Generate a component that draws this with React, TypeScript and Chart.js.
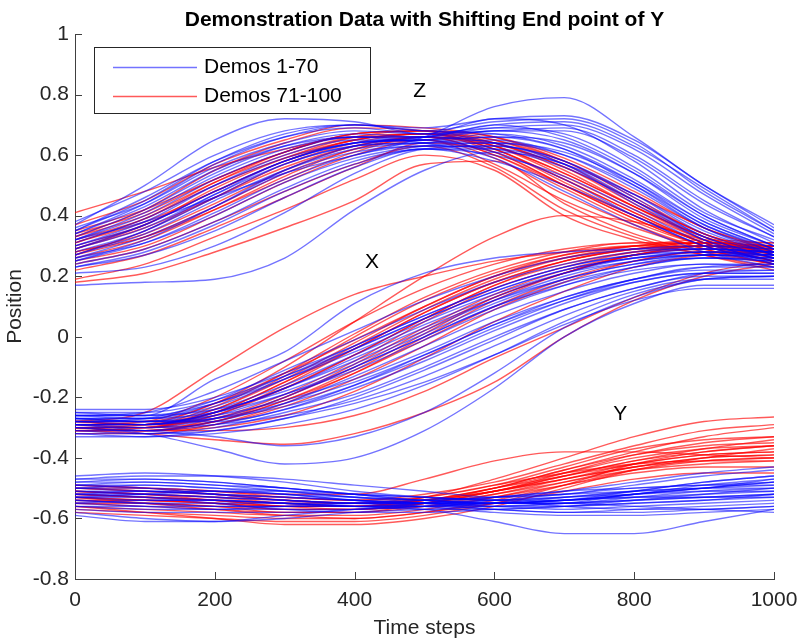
import React, { useEffect, useRef } from 'react';
import { Chart, registerables } from 'chart.js';

Chart.register(...registerables);

// Time steps at which each demonstration is sampled
const T = [0, 100, 200, 300, 400, 500, 600, 700, 800, 900, 1000];

// Z dimension, demos 1-70 (blue)
const Z_BLUE = [
  [0.32, 0.38, 0.46, 0.54, 0.60, 0.66, 0.76, 0.79, 0.66, 0.50, 0.37],
  [0.37, 0.50, 0.65, 0.72, 0.71, 0.67, 0.68, 0.69, 0.60, 0.45, 0.33],
  [0.35, 0.46, 0.58, 0.66, 0.69, 0.67, 0.72, 0.70, 0.58, 0.42, 0.31],
  [0.33, 0.42, 0.54, 0.63, 0.67, 0.66, 0.70, 0.66, 0.55, 0.40, 0.30],
  [0.30, 0.38, 0.50, 0.60, 0.65, 0.65, 0.67, 0.63, 0.52, 0.38, 0.29],
  [0.28, 0.35, 0.46, 0.57, 0.63, 0.64, 0.65, 0.60, 0.49, 0.36, 0.28],
  [0.26, 0.33, 0.43, 0.54, 0.61, 0.63, 0.63, 0.58, 0.47, 0.34, 0.27],
  [0.25, 0.31, 0.41, 0.52, 0.60, 0.63, 0.62, 0.56, 0.45, 0.33, 0.26],
  [0.24, 0.29, 0.38, 0.49, 0.58, 0.62, 0.60, 0.53, 0.42, 0.31, 0.25],
  [0.23, 0.27, 0.35, 0.46, 0.56, 0.62, 0.58, 0.50, 0.40, 0.30, 0.25],
  [0.32, 0.40, 0.52, 0.61, 0.66, 0.66, 0.64, 0.57, 0.44, 0.32, 0.26],
  [0.29, 0.37, 0.48, 0.58, 0.64, 0.65, 0.61, 0.52, 0.40, 0.30, 0.24],
  [0.27, 0.34, 0.45, 0.55, 0.62, 0.64, 0.66, 0.62, 0.51, 0.37, 0.29],
  [0.36, 0.44, 0.56, 0.64, 0.68, 0.67, 0.69, 0.67, 0.56, 0.41, 0.32],
  [0.17, 0.18, 0.19, 0.26, 0.42, 0.55, 0.61, 0.57, 0.45, 0.32, 0.24],
  [0.21, 0.23, 0.30, 0.41, 0.54, 0.62, 0.63, 0.58, 0.46, 0.33, 0.26],
  [0.34, 0.43, 0.55, 0.63, 0.66, 0.64, 0.59, 0.48, 0.37, 0.28, 0.23],
  [0.38, 0.48, 0.60, 0.68, 0.70, 0.68, 0.71, 0.72, 0.64, 0.48, 0.35],
  [0.31, 0.39, 0.50, 0.59, 0.64, 0.65, 0.68, 0.68, 0.59, 0.44, 0.33],
  [0.27, 0.35, 0.47, 0.58, 0.64, 0.66, 0.69, 0.70, 0.62, 0.47, 0.34],
  [0.25, 0.32, 0.43, 0.55, 0.63, 0.66, 0.70, 0.71, 0.63, 0.49, 0.35],
  [0.34, 0.44, 0.57, 0.66, 0.70, 0.69, 0.72, 0.73, 0.65, 0.50, 0.36],
  [0.29, 0.36, 0.47, 0.57, 0.63, 0.64, 0.64, 0.60, 0.50, 0.37, 0.28],
  [0.23, 0.28, 0.37, 0.48, 0.57, 0.62, 0.62, 0.57, 0.47, 0.35, 0.27],
  [0.30, 0.37, 0.48, 0.58, 0.64, 0.65, 0.66, 0.64, 0.54, 0.40, 0.30],
  [0.26, 0.31, 0.40, 0.51, 0.59, 0.63, 0.64, 0.61, 0.51, 0.38, 0.29],
  [0.35, 0.45, 0.58, 0.67, 0.70, 0.68, 0.67, 0.62, 0.50, 0.36, 0.27],
  [0.32, 0.41, 0.53, 0.62, 0.66, 0.66, 0.68, 0.65, 0.54, 0.39, 0.30],
];

// Z dimension, demos 71-100 (red)
const Z_RED = [
  [0.41, 0.48, 0.56, 0.62, 0.66, 0.66, 0.60, 0.50, 0.40, 0.31, 0.26],
  [0.35, 0.42, 0.52, 0.61, 0.67, 0.68, 0.64, 0.56, 0.44, 0.33, 0.27],
  [0.31, 0.38, 0.48, 0.58, 0.65, 0.67, 0.62, 0.52, 0.41, 0.31, 0.26],
  [0.28, 0.34, 0.44, 0.55, 0.63, 0.66, 0.60, 0.49, 0.38, 0.30, 0.25],
  [0.26, 0.32, 0.42, 0.53, 0.62, 0.65, 0.57, 0.45, 0.36, 0.29, 0.24],
  [0.33, 0.40, 0.51, 0.60, 0.66, 0.67, 0.65, 0.58, 0.47, 0.36, 0.28],
  [0.18, 0.21, 0.28, 0.36, 0.45, 0.57, 0.58, 0.44, 0.34, 0.28, 0.24],
  [0.19, 0.24, 0.33, 0.42, 0.52, 0.60, 0.55, 0.40, 0.32, 0.27, 0.23],
  [0.24, 0.29, 0.38, 0.48, 0.57, 0.63, 0.56, 0.42, 0.33, 0.27, 0.22],
  [0.29, 0.36, 0.46, 0.56, 0.63, 0.66, 0.63, 0.54, 0.43, 0.33, 0.28],
  [0.37, 0.45, 0.57, 0.65, 0.70, 0.69, 0.66, 0.58, 0.46, 0.34, 0.28],
  [0.22, 0.27, 0.36, 0.46, 0.56, 0.64, 0.61, 0.50, 0.39, 0.30, 0.25],
  [0.30, 0.37, 0.48, 0.58, 0.65, 0.67, 0.64, 0.55, 0.43, 0.32, 0.26],
  [0.27, 0.33, 0.43, 0.54, 0.62, 0.66, 0.62, 0.51, 0.40, 0.31, 0.25],
  [0.34, 0.41, 0.52, 0.61, 0.67, 0.68, 0.66, 0.59, 0.48, 0.36, 0.29],
  [0.25, 0.30, 0.40, 0.51, 0.60, 0.65, 0.59, 0.47, 0.37, 0.29, 0.24],
  [0.32, 0.39, 0.50, 0.59, 0.65, 0.67, 0.61, 0.50, 0.39, 0.30, 0.25],
  [0.29, 0.37, 0.49, 0.59, 0.66, 0.68, 0.65, 0.57, 0.45, 0.34, 0.27],
  [0.31, 0.39, 0.51, 0.61, 0.67, 0.68, 0.63, 0.53, 0.42, 0.32, 0.26],
  [0.27, 0.35, 0.46, 0.57, 0.64, 0.67, 0.63, 0.54, 0.43, 0.33, 0.27],
  [0.33, 0.42, 0.55, 0.64, 0.69, 0.68, 0.62, 0.52, 0.41, 0.31, 0.25],
  [0.28, 0.33, 0.42, 0.52, 0.61, 0.66, 0.64, 0.56, 0.45, 0.34, 0.28],
];

// X dimension, demos 1-70 (blue)
const X_BLUE = [
  [-0.26, -0.26, -0.14, -0.05, 0.11, 0.21, 0.26, 0.28, 0.29, 0.29, 0.28],
  [-0.30, -0.32, -0.37, -0.42, -0.40, -0.31, -0.17, 0.00, 0.11, 0.17, 0.17],
  [-0.29, -0.31, -0.33, -0.36, -0.33, -0.25, -0.12, 0.03, 0.13, 0.19, 0.20],
  [-0.26, -0.25, -0.18, -0.08, 0.02, 0.12, 0.20, 0.26, 0.29, 0.30, 0.29],
  [-0.28, -0.27, -0.21, -0.11, -0.01, 0.09, 0.18, 0.24, 0.28, 0.29, 0.28],
  [-0.27, -0.27, -0.23, -0.14, -0.04, 0.06, 0.15, 0.22, 0.26, 0.28, 0.27],
  [-0.29, -0.29, -0.25, -0.17, -0.07, 0.03, 0.12, 0.19, 0.24, 0.26, 0.25],
  [-0.30, -0.30, -0.27, -0.20, -0.10, 0.00, 0.10, 0.17, 0.22, 0.24, 0.24],
  [-0.25, -0.26, -0.24, -0.18, -0.09, 0.01, 0.11, 0.19, 0.24, 0.27, 0.27],
  [-0.31, -0.31, -0.28, -0.22, -0.13, -0.03, 0.07, 0.15, 0.21, 0.24, 0.23],
  [-0.28, -0.28, -0.26, -0.21, -0.14, -0.05, 0.05, 0.13, 0.19, 0.22, 0.22],
  [-0.27, -0.28, -0.28, -0.24, -0.17, -0.08, 0.02, 0.11, 0.18, 0.21, 0.21],
  [-0.32, -0.32, -0.30, -0.25, -0.19, -0.10, 0.00, 0.09, 0.16, 0.20, 0.20],
  [-0.26, -0.26, -0.22, -0.14, -0.05, 0.05, 0.14, 0.21, 0.25, 0.27, 0.26],
  [-0.29, -0.30, -0.29, -0.26, -0.21, -0.13, -0.03, 0.07, 0.15, 0.19, 0.19],
  [-0.24, -0.24, -0.20, -0.12, -0.03, 0.07, 0.16, 0.23, 0.27, 0.28, 0.27],
  [-0.33, -0.33, -0.31, -0.27, -0.22, -0.15, -0.06, 0.04, 0.12, 0.16, 0.16],
  [-0.28, -0.29, -0.27, -0.22, -0.15, -0.06, 0.04, 0.12, 0.18, 0.21, 0.21],
  [-0.27, -0.27, -0.22, -0.13, -0.03, 0.07, 0.16, 0.23, 0.27, 0.29, 0.28],
  [-0.29, -0.29, -0.26, -0.19, -0.10, 0.00, 0.10, 0.18, 0.23, 0.26, 0.26],
  [-0.30, -0.31, -0.29, -0.24, -0.16, -0.06, 0.04, 0.13, 0.19, 0.23, 0.23],
  [-0.26, -0.27, -0.25, -0.19, -0.11, -0.01, 0.09, 0.17, 0.23, 0.26, 0.25],
  [-0.31, -0.32, -0.31, -0.27, -0.20, -0.11, -0.01, 0.09, 0.16, 0.21, 0.22],
  [-0.28, -0.28, -0.24, -0.16, -0.06, 0.04, 0.13, 0.21, 0.26, 0.28, 0.28],
  [-0.25, -0.25, -0.21, -0.13, -0.04, 0.06, 0.15, 0.22, 0.26, 0.27, 0.26],
  [-0.32, -0.33, -0.32, -0.29, -0.24, -0.16, -0.06, 0.05, 0.14, 0.19, 0.20],
  [-0.29, -0.29, -0.25, -0.17, -0.08, 0.02, 0.12, 0.20, 0.25, 0.27, 0.27],
  [-0.27, -0.28, -0.27, -0.23, -0.16, -0.07, 0.03, 0.12, 0.19, 0.23, 0.24],
];

// X dimension, demos 71-100 (red)
const X_RED = [
  [-0.28, -0.25, -0.11, 0.03, 0.14, 0.20, 0.25, 0.28, 0.30, 0.30, 0.28],
  [-0.30, -0.29, -0.22, -0.10, 0.05, 0.20, 0.33, 0.40, 0.38, 0.32, 0.27],
  [-0.29, -0.29, -0.24, -0.13, 0.00, 0.12, 0.21, 0.27, 0.30, 0.31, 0.30],
  [-0.30, -0.30, -0.26, -0.16, -0.04, 0.08, 0.18, 0.25, 0.29, 0.31, 0.30],
  [-0.31, -0.31, -0.27, -0.19, -0.08, 0.05, 0.16, 0.23, 0.28, 0.30, 0.29],
  [-0.29, -0.30, -0.28, -0.21, -0.11, 0.01, 0.13, 0.21, 0.27, 0.29, 0.28],
  [-0.30, -0.31, -0.29, -0.23, -0.14, -0.03, 0.09, 0.18, 0.25, 0.28, 0.27],
  [-0.31, -0.32, -0.34, -0.355, -0.32, -0.25, -0.15, 0.00, 0.12, 0.20, 0.24],
  [-0.28, -0.29, -0.27, -0.20, -0.09, 0.03, 0.14, 0.22, 0.27, 0.29, 0.29],
  [-0.30, -0.30, -0.25, -0.15, -0.03, 0.09, 0.19, 0.26, 0.30, 0.32, 0.31],
  [-0.32, -0.32, -0.29, -0.22, -0.12, -0.01, 0.10, 0.19, 0.25, 0.28, 0.28],
  [-0.29, -0.29, -0.23, -0.12, 0.01, 0.13, 0.22, 0.28, 0.31, 0.31, 0.29],
  [-0.29, -0.29, -0.25, -0.17, -0.06, 0.06, 0.17, 0.24, 0.28, 0.30, 0.29],
  [-0.31, -0.31, -0.28, -0.20, -0.10, 0.02, 0.13, 0.21, 0.27, 0.30, 0.30],
  [-0.28, -0.28, -0.22, -0.12, -0.01, 0.10, 0.20, 0.26, 0.29, 0.30, 0.29],
  [-0.30, -0.31, -0.30, -0.26, -0.18, -0.07, 0.05, 0.15, 0.23, 0.27, 0.28],
  [-0.30, -0.31, -0.31, -0.30, -0.26, -0.18, -0.07, 0.03, 0.13, 0.21, 0.25],
  [-0.29, -0.28, -0.20, -0.08, 0.05, 0.16, 0.24, 0.29, 0.31, 0.31, 0.30],
  [-0.30, -0.30, -0.24, -0.14, -0.02, 0.10, 0.20, 0.27, 0.30, 0.31, 0.30],
  [-0.31, -0.30, -0.26, -0.17, -0.06, 0.06, 0.17, 0.25, 0.29, 0.31, 0.31],
  [-0.28, -0.29, -0.25, -0.15, -0.04, 0.08, 0.18, 0.25, 0.29, 0.30, 0.29],
  [-0.30, -0.31, -0.28, -0.21, -0.12, 0.00, 0.12, 0.21, 0.27, 0.30, 0.30],
];

// Y dimension, demos 1-70 (blue)
const Y_BLUE = [
  [-0.47, -0.46, -0.46, -0.47, -0.49, -0.51, -0.53, -0.52, -0.49, -0.46, -0.44],
  [-0.50, -0.49, -0.50, -0.51, -0.53, -0.54, -0.55, -0.54, -0.51, -0.48, -0.46],
  [-0.52, -0.52, -0.53, -0.54, -0.55, -0.56, -0.56, -0.55, -0.52, -0.50, -0.48],
  [-0.55, -0.54, -0.54, -0.55, -0.56, -0.56, -0.55, -0.53, -0.51, -0.50, -0.50],
  [-0.58, -0.60, -0.61, -0.60, -0.58, -0.57, -0.56, -0.55, -0.54, -0.53, -0.52],
  [-0.53, -0.54, -0.54, -0.55, -0.56, -0.57, -0.61, -0.65, -0.65, -0.61, -0.57],
  [-0.49, -0.48, -0.49, -0.51, -0.53, -0.55, -0.57, -0.58, -0.57, -0.56, -0.55],
  [-0.51, -0.51, -0.52, -0.53, -0.54, -0.55, -0.56, -0.57, -0.56, -0.55, -0.54],
  [-0.46, -0.45, -0.46, -0.48, -0.51, -0.53, -0.54, -0.54, -0.52, -0.50, -0.48],
  [-0.54, -0.55, -0.56, -0.56, -0.56, -0.55, -0.54, -0.53, -0.52, -0.51, -0.51],
  [-0.56, -0.57, -0.57, -0.56, -0.55, -0.54, -0.53, -0.52, -0.51, -0.50, -0.49],
  [-0.48, -0.47, -0.48, -0.50, -0.52, -0.54, -0.53, -0.51, -0.48, -0.45, -0.43],
  [-0.52, -0.53, -0.55, -0.57, -0.58, -0.58, -0.57, -0.56, -0.55, -0.54, -0.53],
  [-0.57, -0.58, -0.58, -0.58, -0.57, -0.56, -0.55, -0.55, -0.56, -0.57, -0.58],
  [-0.50, -0.50, -0.51, -0.52, -0.54, -0.55, -0.55, -0.54, -0.52, -0.49, -0.47],
  [-0.53, -0.52, -0.51, -0.51, -0.52, -0.53, -0.54, -0.56, -0.57, -0.57, -0.56],
  [-0.49, -0.50, -0.52, -0.54, -0.55, -0.55, -0.54, -0.52, -0.50, -0.49, -0.49],
  [-0.59, -0.61, -0.61, -0.59, -0.57, -0.55, -0.53, -0.51, -0.50, -0.49, -0.48],
  [-0.48, -0.48, -0.49, -0.50, -0.52, -0.53, -0.54, -0.53, -0.51, -0.48, -0.46],
  [-0.51, -0.52, -0.53, -0.54, -0.55, -0.55, -0.55, -0.54, -0.53, -0.52, -0.51],
  [-0.53, -0.53, -0.54, -0.55, -0.56, -0.57, -0.57, -0.56, -0.54, -0.52, -0.50],
  [-0.55, -0.56, -0.57, -0.57, -0.57, -0.56, -0.55, -0.54, -0.53, -0.53, -0.53],
  [-0.50, -0.51, -0.52, -0.53, -0.54, -0.55, -0.56, -0.56, -0.55, -0.54, -0.52],
  [-0.47, -0.47, -0.48, -0.50, -0.52, -0.54, -0.55, -0.55, -0.53, -0.51, -0.50],
  [-0.56, -0.56, -0.56, -0.56, -0.56, -0.56, -0.57, -0.58, -0.58, -0.57, -0.56],
  [-0.52, -0.51, -0.51, -0.52, -0.53, -0.54, -0.55, -0.55, -0.54, -0.53, -0.52],
  [-0.54, -0.55, -0.55, -0.55, -0.55, -0.55, -0.55, -0.54, -0.52, -0.50, -0.47],
  [-0.49, -0.49, -0.50, -0.52, -0.54, -0.56, -0.58, -0.59, -0.59, -0.58, -0.57],
];

// Y dimension, demos 71-100 (red)
const Y_RED = [
  [-0.52, -0.53, -0.54, -0.56, -0.56, -0.53, -0.47, -0.40, -0.33, -0.28, -0.265],
  [-0.50, -0.50, -0.51, -0.52, -0.52, -0.47, -0.41, -0.38, -0.38, -0.39, -0.40],
  [-0.54, -0.55, -0.56, -0.58, -0.58, -0.55, -0.50, -0.44, -0.38, -0.33, -0.30],
  [-0.51, -0.52, -0.53, -0.55, -0.56, -0.55, -0.51, -0.46, -0.41, -0.37, -0.34],
  [-0.56, -0.58, -0.60, -0.62, -0.62, -0.60, -0.56, -0.50, -0.44, -0.40, -0.37],
  [-0.53, -0.54, -0.55, -0.56, -0.56, -0.54, -0.50, -0.46, -0.42, -0.39, -0.38],
  [-0.49, -0.50, -0.52, -0.54, -0.55, -0.53, -0.49, -0.45, -0.42, -0.41, -0.41],
  [-0.55, -0.55, -0.56, -0.57, -0.57, -0.56, -0.53, -0.49, -0.45, -0.43, -0.43],
  [-0.57, -0.58, -0.59, -0.60, -0.60, -0.58, -0.55, -0.51, -0.47, -0.45, -0.45],
  [-0.52, -0.53, -0.54, -0.55, -0.55, -0.54, -0.51, -0.47, -0.43, -0.40, -0.39],
  [-0.50, -0.51, -0.52, -0.53, -0.54, -0.53, -0.49, -0.43, -0.37, -0.34, -0.33],
  [-0.58, -0.59, -0.60, -0.61, -0.61, -0.59, -0.55, -0.49, -0.42, -0.38, -0.36],
  [-0.53, -0.54, -0.55, -0.57, -0.57, -0.55, -0.51, -0.46, -0.41, -0.38, -0.36],
  [-0.51, -0.52, -0.53, -0.54, -0.55, -0.54, -0.50, -0.44, -0.39, -0.36, -0.35],
  [-0.56, -0.57, -0.58, -0.59, -0.59, -0.57, -0.53, -0.48, -0.43, -0.40, -0.39],
  [-0.54, -0.54, -0.55, -0.56, -0.56, -0.55, -0.52, -0.48, -0.44, -0.42, -0.41],
  [-0.49, -0.50, -0.51, -0.53, -0.54, -0.52, -0.48, -0.42, -0.36, -0.31, -0.29],
  [-0.52, -0.53, -0.54, -0.55, -0.56, -0.54, -0.50, -0.45, -0.40, -0.37, -0.36],
  [-0.55, -0.56, -0.57, -0.58, -0.58, -0.56, -0.52, -0.47, -0.42, -0.39, -0.38],
  [-0.50, -0.51, -0.52, -0.54, -0.55, -0.54, -0.51, -0.47, -0.43, -0.41, -0.40],
  [-0.53, -0.55, -0.57, -0.59, -0.60, -0.58, -0.54, -0.49, -0.44, -0.41, -0.40],
  [-0.51, -0.52, -0.54, -0.56, -0.57, -0.55, -0.51, -0.45, -0.39, -0.35, -0.33],
];

const TITLE = 'Demonstration Data with Shifting End point of Y';
const X_LABEL = 'Time steps';
const Y_LABEL = 'Position';
const LEGEND_LABELS = ['Demos 1-70', 'Demos 71-100'];
const ANNOT_TEXT = ['Z', 'X', 'Y'];
const ANNOT_T = [493, 425, 780];
const ANNOT_V = [0.81, 0.245, -0.255];

const BLUE = 'rgba(0,0,255,0.55)';
const RED = 'rgba(255,0,0,0.65)';
const AXIS = '#404040';
const TEXT = '#262626';
const FONT = '"Liberation Sans", Arial, Helvetica, sans-serif';

export default function App() {
  const ref = useRef<HTMLCanvasElement>(null);

  useEffect(() => {
    if (!ref.current) return;
    const mk = (groups: number[][], color: string) =>
      groups.map((vals) => ({
        data: T.map((t, i) => ({ x: t, y: vals[i] })),
        borderColor: color,
        borderWidth: 1.4,
        pointRadius: 0,
        fill: false,
        cubicInterpolationMode: 'monotone' as const,
      }));
    const datasets = [
      ...mk(Z_BLUE, BLUE),
      ...mk(X_BLUE, BLUE),
      ...mk(Y_BLUE, BLUE),
      ...mk(Z_RED, RED),
      ...mk(X_RED, RED),
      ...mk(Y_RED, RED),
    ];

    const decor = {
      id: 'decor',
      afterDraw(chart: any) {
        const { ctx, chartArea, scales } = chart;
        const xs = scales.x;
        const ys = scales.y;
        ctx.save();
        // inward tick marks
        ctx.strokeStyle = AXIS;
        ctx.lineWidth = 1;
        ctx.beginPath();
        ys.ticks.forEach((tk: any) => {
          const py = Math.round(ys.getPixelForValue(tk.value)) + 0.5;
          ctx.moveTo(chartArea.left, py);
          ctx.lineTo(chartArea.left + 7, py);
        });
        xs.ticks.forEach((tk: any) => {
          const px = Math.round(xs.getPixelForValue(tk.value)) + 0.5;
          ctx.moveTo(px, chartArea.bottom);
          ctx.lineTo(px, chartArea.bottom - 7);
        });
        ctx.stroke();

        // title
        ctx.fillStyle = '#000';
        ctx.font = `bold 21px ${FONT}`;
        ctx.textAlign = 'center';
        ctx.textBaseline = 'middle';
        ctx.fillText(TITLE, (chartArea.left + chartArea.right) / 2, 20);

        // dimension labels
        ctx.font = `21px ${FONT}`;
        ANNOT_TEXT.forEach((txt, i) => {
          ctx.fillText(txt, xs.getPixelForValue(ANNOT_T[i]), ys.getPixelForValue(ANNOT_V[i]));
        });

        // legend
        const bx = 94.5, by = 47.5, bw = 276, bh = 66;
        ctx.fillStyle = '#fff';
        ctx.fillRect(bx, by, bw, bh);
        ctx.strokeStyle = TEXT;
        ctx.lineWidth = 1;
        ctx.strokeRect(bx, by, bw, bh);
        const colors = [BLUE, RED];
        const rows = [67, 96];
        ctx.textAlign = 'left';
        ctx.font = `21px ${FONT}`;
        LEGEND_LABELS.forEach((lab, i) => {
          ctx.strokeStyle = colors[i];
          ctx.lineWidth = 1.4;
          ctx.beginPath();
          ctx.moveTo(113, rows[i] + 0.5);
          ctx.lineTo(197, rows[i] + 0.5);
          ctx.stroke();
          ctx.fillStyle = '#000';
          ctx.fillText(lab, 204, rows[i]);
        });
        ctx.restore();
      },
    };

    const chart = new Chart(ref.current, {
      type: 'line',
      data: { datasets },
      plugins: [decor],
      options: {
        animation: false,
        responsive: false,
        devicePixelRatio: 1,
        layout: { padding: { top: 34, right: 26, left: 0, bottom: 0 } },
        plugins: { legend: { display: false }, tooltip: { enabled: false }, title: { display: false } },
        scales: {
          x: {
            type: 'linear',
            min: 0,
            max: 1000,
            grid: { drawOnChartArea: false, drawTicks: false },
            border: { display: true, color: AXIS, width: 1 },
            ticks: {
              stepSize: 200,
              padding: 9,
              color: TEXT,
              font: { family: FONT, size: 21 },
              maxRotation: 0,
              callback: (v: any) => String(Math.round(Number(v))),
            },
            title: { display: true, text: X_LABEL, color: TEXT, font: { family: FONT, size: 21 }, padding: { top: 0, bottom: 0 } },
            afterFit: (s: any) => {
              s.height = 62;
              s.paddingRight = 0;
              s.paddingLeft = 0;
            },
          },
          y: {
            type: 'linear',
            min: -0.8,
            max: 1,
            grid: { drawOnChartArea: false, drawTicks: false },
            border: { display: true, color: AXIS, width: 1 },
            ticks: {
              stepSize: 0.2,
              padding: 6,
              color: TEXT,
              font: { family: FONT, size: 21 },
              callback: (v: any) => String(Number(Number(v).toFixed(1))),
            },
            title: { display: true, text: Y_LABEL, color: TEXT, font: { family: FONT, size: 21 }, padding: { top: 3, bottom: 0 } },
            afterFit: (s: any) => {
              s.width = 75;
              s.paddingTop = 0;
              s.paddingBottom = 0;
            },
          },
        },
      },
    });
    return () => chart.destroy();
  }, []);

  return (
    <div style={{ position: 'absolute', left: 0, top: 0, width: 800, height: 641, background: '#fff' }}>
      <canvas ref={ref} width={800} height={641} />
    </div>
  );
}
